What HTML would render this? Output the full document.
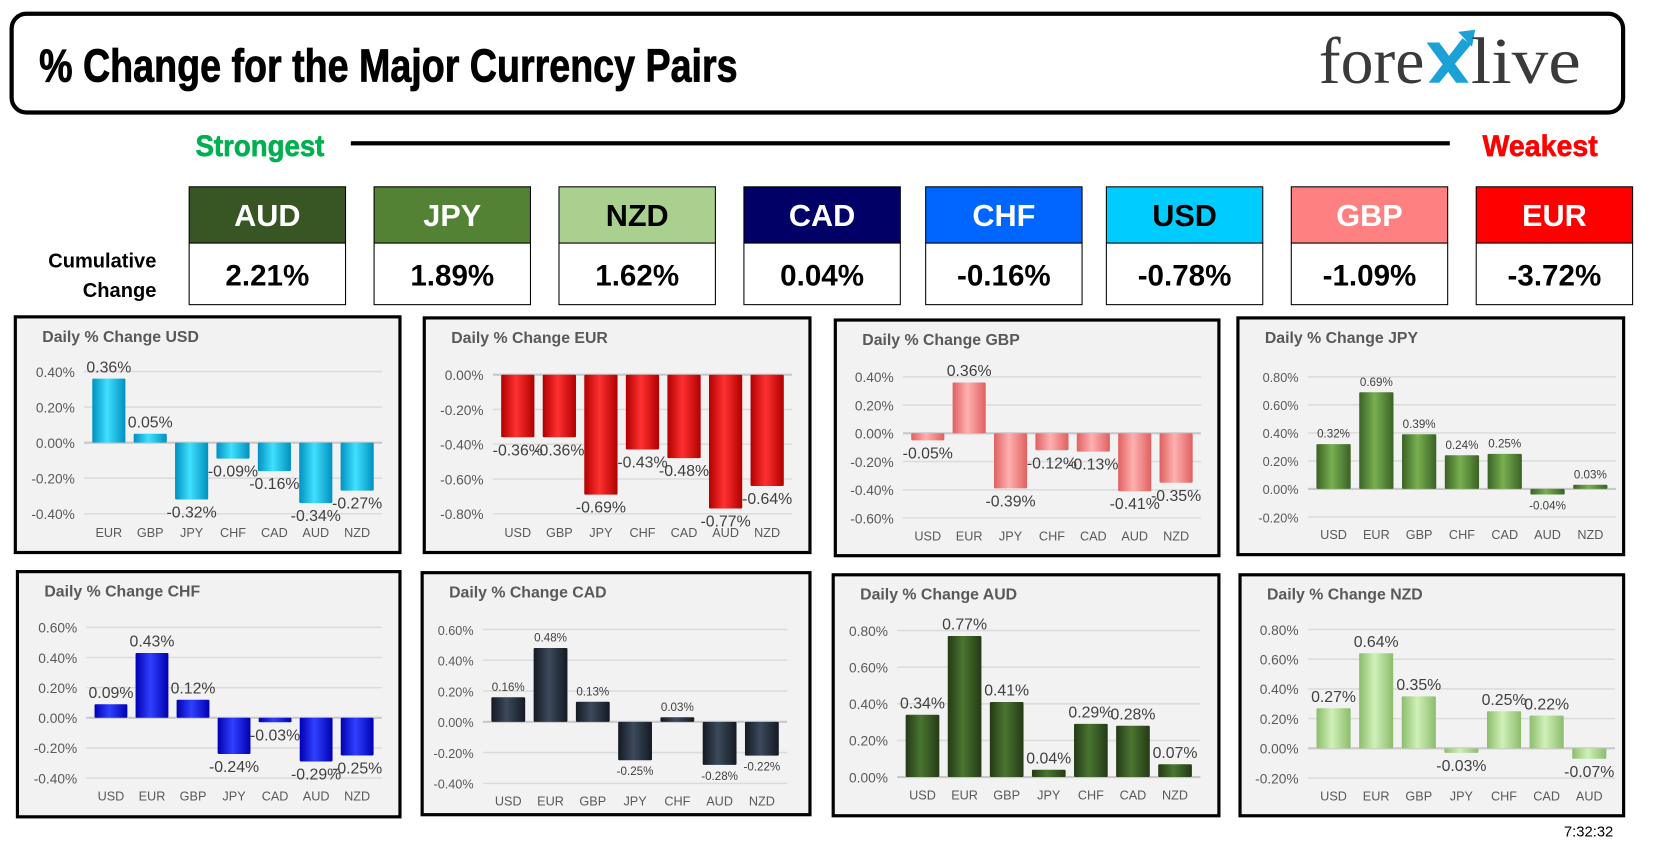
<!DOCTYPE html>
<html><head><meta charset="utf-8">
<style>
html,body{margin:0;padding:0;background:#fff;width:1657px;height:849px;overflow:hidden}
#wrap{position:absolute;left:0;top:0;width:1560px;height:800px;transform:scale(1.0567,1.0615);transform-origin:0 0;font-family:"Liberation Sans",sans-serif}
.abs{position:absolute}
.panel{position:absolute;border:3px solid #000;background:#f2f2f2;box-sizing:border-box}
</style></head><body>
<div id="wrap">
<svg class="abs" style="left:0;top:0" width="1560" height="300">
  <rect x="11" y="13" width="1525" height="93" rx="14" fill="#fff" stroke="#000" stroke-width="4"/>
  <text x="37" y="77" font-family="Liberation Sans Narrow, Liberation Sans, sans-serif" font-weight="bold" font-size="44" textLength="661" lengthAdjust="spacingAndGlyphs" fill="#000" stroke="#000" stroke-width="0.8">% Change for the Major Currency Pairs</text>
  <g>
    <text x="1248" y="78" font-family="Liberation Serif, serif" font-size="62" fill="#3a3a3a" textLength="100" lengthAdjust="spacingAndGlyphs">fore</text>
    <path d="M1350 40 L1378 78 L1390 78 L1362 40 Z" fill="#1ba1d6"/>
    <path d="M1352 78 L1384 36 L1392 42 L1362 78 Z" fill="#1ba1d6"/>
    <path d="M1380 30 L1396 28 L1393 44 Z" fill="#1ba1d6"/>
    <text x="1392" y="78" font-family="Liberation Serif, serif" font-size="62" fill="#3a3a3a" textLength="104" lengthAdjust="spacingAndGlyphs">live</text>
  </g>
  <text x="185" y="147" font-family="Liberation Sans Narrow, Liberation Sans, sans-serif" font-weight="bold" font-size="28" fill="#00b050" stroke="#00b050" stroke-width="0.6" textLength="122" lengthAdjust="spacingAndGlyphs">Strongest</text>
  <rect x="332" y="133" width="1040" height="4" fill="#000"/>
  <text x="1403" y="147" font-family="Liberation Sans Narrow, Liberation Sans, sans-serif" font-weight="bold" font-size="28" fill="#ff0000" stroke="#ff0000" stroke-width="0.6" textLength="109" lengthAdjust="spacingAndGlyphs">Weakest</text>
  <text x="148" y="252" text-anchor="end" font-family="Liberation Sans Narrow, Liberation Sans, sans-serif" font-weight="bold" font-size="19" fill="#000">Cumulative</text>
  <text x="148" y="280" text-anchor="end" font-family="Liberation Sans Narrow, Liberation Sans, sans-serif" font-weight="bold" font-size="19" fill="#000">Change</text>
  <g id="cum"></g>
</svg>
<div class="abs" style="left:1480px;top:775px;font-size:14px;color:#000">7:32:32</div>
<div id="panels"></div>
</div>
<script>
const cumNames=["AUD","JPY","NZD","CAD","CHF","USD","GBP","EUR"];
const cumValues=["2.21%","1.89%","1.62%","0.04%","-0.16%","-0.78%","-1.09%","-3.72%"];
const cumColors=["#375623","#548235","#a9d08e","#000066","#0066ff","#00ccff","#ff8080","#ff0000"];
const cumTextColors=["#fff","#fff","#000","#fff","#fff","#000","#fff","#fff"];
const cumX=[179,354,529,704,876,1047,1222,1397];
const NS="http://www.w3.org/2000/svg";
function mk(tag,attrs,parent){const e=document.createElementNS(NS,tag);for(const k in attrs)e.setAttribute(k,attrs[k]);if(parent)parent.appendChild(e);return e;}
const cg=document.getElementById('cum');
cumNames.forEach((n,i)=>{
  const x=cumX[i];
  const h=mk('rect',{x:x,y:176,width:148,height:53,fill:cumColors[i],stroke:'#000','stroke-width':1},cg);
  
  
  const v=mk('rect',{x:x,y:229,width:148,height:58,fill:'#fff',stroke:'#000','stroke-width':1},cg);
  
  
  const t=mk('text',{x:x+74,y:213,'text-anchor':'middle','font-family':'Liberation Sans Narrow, Liberation Sans, sans-serif','font-weight':'bold','font-size':29,fill:cumTextColors[i]},cg);
  t.textContent=n;
  
  
  const t2=mk('text',{x:x+74,y:269,'text-anchor':'middle','font-family':'Liberation Sans Narrow, Liberation Sans, sans-serif','font-weight':'bold','font-size':28,fill:'#000'},cg);
  t2.textContent=cumValues[i];
  
  
});

const usdCats=["EUR","GBP","JPY","CHF","CAD","AUD","NZD"];
const usdVals=[0.36,0.05,-0.32,-0.09,-0.16,-0.34,-0.27];
const usdTicks=[0.4,0.2,0,-0.2,-0.4];
const eurCats=["USD","GBP","JPY","CHF","CAD","AUD","NZD"];
const eurVals=[-0.36,-0.36,-0.69,-0.43,-0.48,-0.77,-0.64];
const eurTicks=[0,-0.2,-0.4,-0.6,-0.8];
const gbpCats=["USD","EUR","JPY","CHF","CAD","AUD","NZD"];
const gbpVals=[-0.05,0.36,-0.39,-0.12,-0.13,-0.41,-0.35];
const gbpTicks=[0.4,0.2,0,-0.2,-0.4,-0.6];
const jpyCats=["USD","EUR","GBP","CHF","CAD","AUD","NZD"];
const jpyVals=[0.32,0.69,0.39,0.24,0.25,-0.04,0.03];
const jpyTicks=[0.8,0.6,0.4,0.2,0,-0.2];
const chfCats=["USD","EUR","GBP","JPY","CAD","AUD","NZD"];
const chfVals=[0.09,0.43,0.12,-0.24,-0.03,-0.29,-0.25];
const chfTicks=[0.6,0.4,0.2,0,-0.2,-0.4];
const cadCats=["USD","EUR","GBP","JPY","CHF","AUD","NZD"];
const cadVals=[0.16,0.48,0.13,-0.25,0.03,-0.28,-0.22];
const cadTicks=[0.6,0.4,0.2,0,-0.2,-0.4];
const audCats=["USD","EUR","GBP","JPY","CHF","CAD","NZD"];
const audVals=[0.34,0.77,0.41,0.04,0.29,0.28,0.07];
const audTicks=[0.8,0.6,0.4,0.2,0];
const nzdCats=["USD","EUR","GBP","JPY","CHF","CAD","AUD"];
const nzdVals=[0.27,0.64,0.35,-0.03,0.25,0.22,-0.07];
const nzdTicks=[0.8,0.6,0.4,0.2,0,-0.2];

const charts=[
 {id:'usd',title:'Daily % Change USD',cats:usdCats,vals:usdVals,ticks:usdTicks,L:13,T:297,W:367,H:225,ty:53,by:187,x0:90,x1:325,ly:205,c1:'#0090c0',c2:'#40e0ff',fs:15},
 {id:'eur',title:'Daily % Change EUR',cats:eurCats,vals:eurVals,ticks:eurTicks,L:400,T:298,W:368,H:224,ty:55,by:186,x0:90,x1:326,ly:204,c1:'#b00000',c2:'#ff3030',fs:15},
 {id:'gbp',title:'Daily % Change GBP',cats:gbpCats,vals:gbpVals,ticks:gbpTicks,L:789,T:300,W:366,H:225,ty:55,by:188,x0:89,x1:324,ly:205,c1:'#e06060',c2:'#ffb0b0',fs:15},
 {id:'jpy',title:'Daily % Change JPY',cats:jpyCats,vals:jpyVals,ticks:jpyTicks,L:1170,T:298,W:368,H:226,ty:57,by:189,x0:92,x1:335,ly:206,c1:'#3b6126',c2:'#78b050',fs:11},
 {id:'chf',title:'Daily % Change CHF',cats:chfCats,vals:chfVals,ticks:chfTicks,L:15,T:537,W:365,H:234,ty:54,by:196,x0:90,x1:323,ly:213,c1:'#0000b0',c2:'#3040ff',fs:15},
 {id:'cad',title:'Daily % Change CAD',cats:cadCats,vals:cadVals,ticks:cadTicks,L:398,T:538,W:370,H:231,ty:55,by:200,x0:83,x1:323,ly:217,c1:'#141a22',c2:'#3c4a5c',fs:11},
 {id:'aud',title:'Daily % Change AUD',cats:audCats,vals:audVals,ticks:audTicks,L:787,T:540,W:368,H:230,ty:54,by:192,x0:86,x1:325,ly:209,c1:'#243a17',c2:'#4a7530',fs:15},
 {id:'nzd',title:'Daily % Change NZD',cats:nzdCats,vals:nzdVals,ticks:nzdTicks,L:1172,T:540,W:366,H:230,ty:53,by:193,x0:90,x1:332,ly:210,c1:'#8cbc6c',c2:'#d0f0b8',fs:15}
];
const host=document.getElementById('panels');
charts.forEach(c=>{
  const d=document.createElement('div');
  d.className='panel';
  d.style.left=c.L+'px';d.style.top=c.T+'px';d.style.width=c.W+'px';d.style.height=c.H+'px';
  
  
  host.appendChild(d);
  const s=mk('svg',{width:c.W-6,height:c.H-6,style:'position:absolute;left:0;top:0'},d);
  const off=-3;
  const maxT=c.ticks[0],minT=c.ticks[c.ticks.length-1];
  const yS=v=>c.ty+off+(maxT-v)/(maxT-minT)*(c.by-c.ty);
  const step=(c.x1-c.x0)/(c.cats.length-1);
  const xS=i=>c.x0+off+i*step;
  const bw=step*0.8;
  const defs=mk('defs',{},s);
  const g=mk('linearGradient',{id:'g'+c.id,x1:0,y1:0,x2:1,y2:0},defs);
  mk('stop',{offset:0,'stop-color':c.c1},g);
  mk('stop',{offset:0.45,'stop-color':c.c2},g);
  mk('stop',{offset:1,'stop-color':c.c1},g);
  const t=mk('text',{x:24,y:22,'font-size':15,'font-weight':'bold',fill:'#595959'},s);
  t.textContent=c.title;
  
  
  const tfs=c.fs<13?12:13;
  c.ticks.forEach(v=>{
    const y=yS(v);
    const gl=mk('line',{x1:c.x0+off-bw*0.75,x2:c.x1+off+bw*0.75,y1:y,y2:y,stroke:v===0?'#c8c8c8':'#dcdcdc','stroke-width':v===0?2:1.5},s);
    
    
    const tl=mk('text',{x:c.x0+off-bw*0.9-4,y:y+5,'text-anchor':'end','font-size':tfs,fill:'#595959'},s);
    tl.textContent=v.toFixed(2)+'%';
    
    
  });
  const y0=yS(0);
  c.vals.forEach((v,i)=>{
    const x=xS(i),y=yS(v);
    const r=mk('rect',{x:x-bw/2,y:Math.min(y,y0),width:bw,height:Math.max(Math.abs(y-y0),1.5),fill:'url(#g'+c.id+')',rx:1},s);
    
    
    const ly=v>=0?y-6:y+(c.fs<13?14:17);
    const vl=mk('text',{x:x,y:ly,'text-anchor':'middle','font-size':c.fs,fill:'#404040'},s);
    vl.textContent=v.toFixed(2)+'%';
    
    
    const cl=mk('text',{x:x,y:c.ly+off+4,'text-anchor':'middle','font-size':12,fill:'#595959'},s);
    cl.textContent=c.cats[i];
    
    
  });
});
</script>
</body></html>
